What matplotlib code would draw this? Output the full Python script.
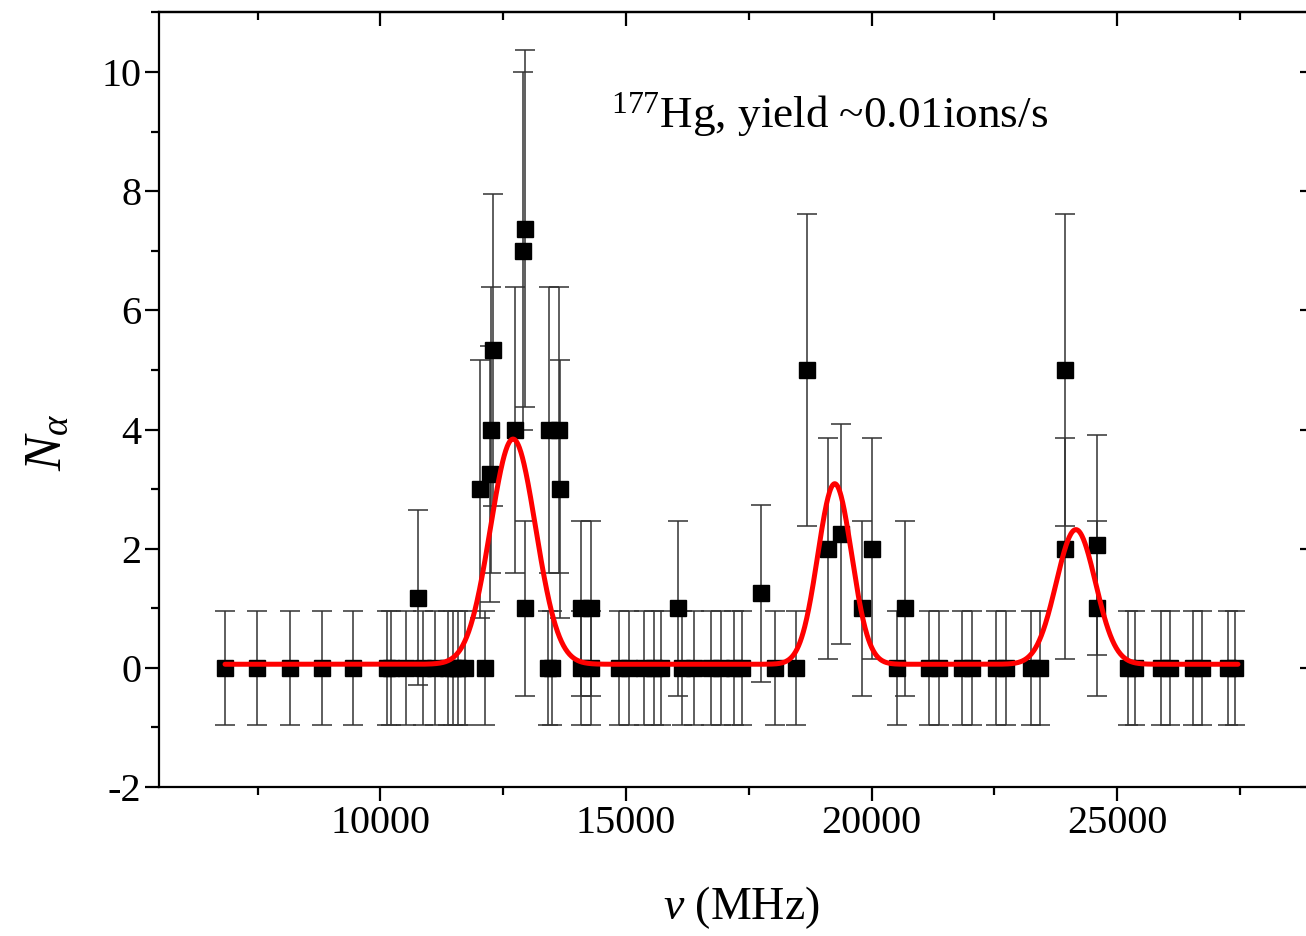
import numpy as np
import matplotlib
matplotlib.use("Agg")
import matplotlib.pyplot as plt
from matplotlib.ticker import MultipleLocator, NullFormatter

# ---- data ----
freq = [6835, 7480, 8157, 8801, 9443,
        10128, 10209, 10514, 10764, 10860, 11104, 11374, 11476, 11577, 11713,
        12024, 12120, 12240, 12256, 12289, 12736, 12898, 12933, 12953,
        13420, 13441, 13500, 13644, 13660,
        14085, 14085, 14289, 14289,
        14866, 15069, 15370, 15573, 15715,
        16050, 16150, 16390, 16737, 16940, 17200, 17370,
        17744, 18034, 18455, 18691,
        19118, 19370, 19811, 20012, 20520, 20671,
        21165, 21370, 21835, 22040, 22530, 22730, 23250, 23420,
        23942, 23942, 24600, 24600,
        25230, 25365, 25900, 26075, 26550, 26720, 27262, 27410]
counts = [0, 0, 0, 0, 0,
          0, 0, 0, 1.18, 0, 0, 0, 0, 0, 0,
          3, 0, 3.25, 4, 5.33, 4, 7, 1, 7.37,
          0, 4, 0, 4, 3,
          1, 0, 1, 0,
          0, 0, 0, 0, 0,
          1, 0, 0, 0, 0, 0, 0,
          1.25, 0, 0, 5,
          2, 2.25, 1, 2, 0, 1,
          0, 0, 0, 0, 0, 0, 0, 0,
          5, 2, 2.06, 1,
          0, 0, 0, 0, 0, 0, 0, 0]
errors = [0.96, 0.96, 0.96, 0.96, 0.96,
          0.96, 0.96, 0.96, 1.47, 0.96, 0.96, 0.96, 0.96, 0.96, 0.96,
          2.16, 0.96, 2.15, 2.4, 2.62, 2.4, 3.0, 1.47, 3.0,
          0.96, 2.4, 0.96, 2.4, 2.16,
          1.47, 0.96, 1.47, 0.96,
          0.96, 0.96, 0.96, 0.96, 0.96,
          1.47, 0.96, 0.96, 0.96, 0.96, 0.96, 0.96,
          1.48, 0.96, 0.96, 2.62,
          1.85, 1.85, 1.47, 1.85, 0.96, 1.47,
          0.96, 0.96, 0.96, 0.96, 0.96, 0.96, 0.96, 0.96,
          2.62, 1.85, 1.85, 1.47,
          0.96, 0.96, 0.96, 0.96, 0.96, 0.96, 0.96, 0.96]

# fitted curve parameters (three Gaussian peaks on a flat background)
fit_centers = [12700, 19250, 24160]
fit_heights = [3.78, 3.03, 2.26]
fit_sigmas = [460, 345, 400]
fit_offset = 0.06
fit_range = [6835, 27460]

annotation = r"$^{177}$Hg, yield ~0.01ions/s"
xlabel = r"$\nu$ (MHz)"
ylabel = r"$N_\alpha$"

# ---- styling ----
plt.rcParams['font.family'] = ['Liberation Serif', 'DejaVu Serif']
plt.rcParams['mathtext.fontset'] = 'custom'
plt.rcParams['mathtext.rm'] = 'Liberation Serif'
plt.rcParams['mathtext.it'] = 'Liberation Serif:italic'
plt.rcParams['mathtext.bf'] = 'Liberation Serif:bold'
plt.rcParams['axes.unicode_minus'] = False

fig = plt.figure(figsize=(13.06, 9.36), dpi=100)
ax = fig.add_axes([0.1221, 0.1592, 0.8837, 0.8275])

ax.errorbar(freq, counts, yerr=errors, fmt='s', color='black', ms=11,
            ecolor='#333333', elinewidth=1.1, capsize=7, capthick=1.1, zorder=2)

xs = np.linspace(fit_range[0], fit_range[1], 2000)
ys = np.full_like(xs, fit_offset)
for c, h, s in zip(fit_centers, fit_heights, fit_sigmas):
    ys += h * np.exp(-0.5 * ((xs - c) / s) ** 2)
ax.plot(xs, ys, color='#ff0000', lw=3.6, zorder=3, solid_capstyle='round')

ax.set_xlim(5500, 29000)
ax.set_ylim(-2, 11)
ax.xaxis.set_major_locator(MultipleLocator(5000))
ax.xaxis.set_minor_locator(MultipleLocator(2500))
ax.yaxis.set_major_locator(MultipleLocator(2))
ax.yaxis.set_minor_locator(MultipleLocator(1))

for sp in ax.spines.values():
    sp.set_linewidth(1.6)

ax.tick_params(which='both', direction='out', width=1.6, labelsize=29, pad=3)
ax.tick_params(which='major', length=10)
ax.tick_params(which='minor', length=5.5)

secx = ax.secondary_xaxis('top')
secx.xaxis.set_major_locator(MultipleLocator(5000))
secx.xaxis.set_minor_locator(MultipleLocator(2500))
secx.xaxis.set_major_formatter(NullFormatter())
secx.tick_params(which='both', direction='in', width=1.6)
secx.tick_params(which='major', length=10)
secx.tick_params(which='minor', length=5.5)
secx.spines['top'].set_linewidth(1.6)

secy = ax.secondary_yaxis('right')
secy.yaxis.set_major_locator(MultipleLocator(2))
secy.yaxis.set_minor_locator(MultipleLocator(1))
secy.yaxis.set_major_formatter(NullFormatter())
secy.tick_params(which='both', direction='in', width=1.6)
secy.tick_params(which='major', length=10)
secy.tick_params(which='minor', length=5.5)

ax.text(14701, 9.08, annotation, fontsize=32.5, va='baseline', ha='left')

ax.set_xlabel(xlabel, fontsize=33)
ax.xaxis.set_label_coords(0.504, -0.125)
ax.set_ylabel(ylabel, fontsize=38)
ax.yaxis.set_label_coords(-0.076, 0.445)

fig.savefig("out.png", dpi=100)
